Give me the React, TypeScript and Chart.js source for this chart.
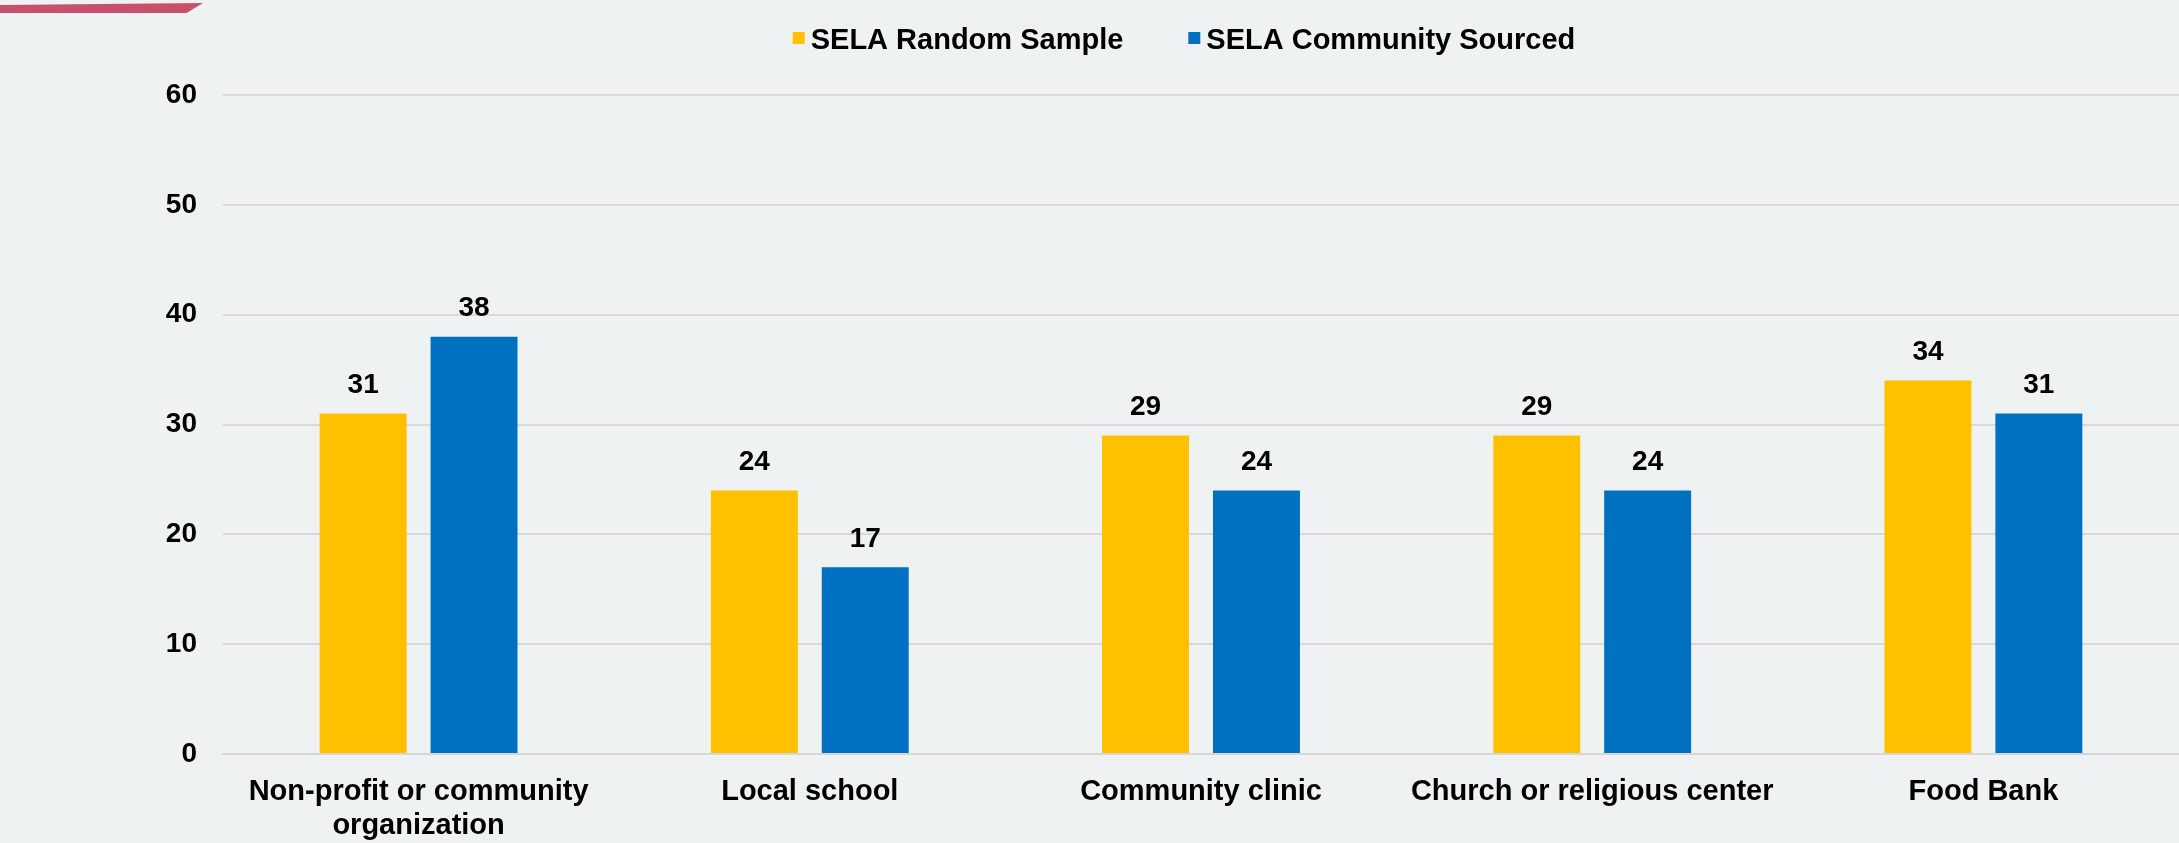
import React, { useEffect, useRef } from "react";
import { Chart, registerables } from "chart.js";

Chart.register(...registerables);

const categories: (string | string[])[] = [
  ["Non-profit or community", "organization"],
  "Local school",
  "Community clinic",
  "Church or religious center",
  "Food Bank",
];
const randomSample = [31, 24, 29, 29, 34];
const communitySourced = [38, 17, 24, 24, 31];
const seriesNames = ["SELA Random Sample", "SELA Community Sourced"];
const seriesColors = ["#FFC000", "#0070C0"];
const yMax = 60;
const yStep = 10;

const FONT = "'Liberation Sans', Arial, Helvetica, sans-serif";
const BG = "#EEF2F3";

const bgPlugin = {
  id: "bgFill",
  beforeDraw(chart: any) {
    const ctx = chart.ctx;
    ctx.save();
    ctx.fillStyle = BG;
    ctx.fillRect(0, 0, chart.width, chart.height);
    ctx.restore();
  },
};

const legendPlugin = {
  id: "topLegend",
  afterDraw(chart: any) {
    const ctx = chart.ctx;
    ctx.save();
    ctx.font = `bold 29px ${FONT}`;
    const box = 12;
    const gapBox = 6;
    const gapItem = 65;
    const widths = seriesNames.map((n) => ctx.measureText(n).width);
    const total =
      widths.reduce((a, w) => a + box + gapBox + w, 0) + gapItem * (seriesNames.length - 1);
    const cx = (chart.chartArea.left + chart.chartArea.right) / 2 - 17;
    let x = cx - total / 2;
    const y = 40;
    ctx.textBaseline = "middle";
    ctx.textAlign = "left";
    seriesNames.forEach((name, i) => {
      ctx.fillStyle = seriesColors[i];
      ctx.fillRect(x, y - box / 2 - 2, box, box);
      x += box + gapBox;
      ctx.fillStyle = "#000";
      ctx.fillText(name, x, y + 1);
      x += widths[i] + gapItem;
    });
    ctx.restore();
  },
};

const valueLabelPlugin = {
  id: "valueLabels",
  afterDatasetsDraw(chart: any) {
    const ctx = chart.ctx;
    ctx.save();
    ctx.font = `bold 28px ${FONT}`;
    ctx.fillStyle = "#000";
    ctx.textAlign = "center";
    ctx.textBaseline = "middle";
    chart.data.datasets.forEach((ds: any, di: number) => {
      const meta = chart.getDatasetMeta(di);
      meta.data.forEach((el: any, i: number) => {
        ctx.fillText(String(ds.data[i]), el.x, el.y - 28);
      });
    });
    ctx.restore();
  },
};

export default function App() {
  const ref = useRef<HTMLCanvasElement | null>(null);

  useEffect(() => {
    if (!ref.current) return;
    const chart = new Chart(ref.current, {
      type: "bar",
      data: {
        labels: categories,
        datasets: [
          {
            label: seriesNames[0],
            data: randomSample,
            backgroundColor: seriesColors[0],
            categoryPercentage: 0.567,
            barPercentage: 0.784,
          },
          {
            label: seriesNames[1],
            data: communitySourced,
            backgroundColor: seriesColors[1],
            categoryPercentage: 0.567,
            barPercentage: 0.784,
          },
        ],
      },
      options: {
        responsive: false,
        animation: false,
        layout: { padding: { top: 95, bottom: 0, left: 0, right: 0 } },
        plugins: {
          legend: { display: false },
          tooltip: { enabled: false },
          title: { display: false },
        },
        scales: {
          x: {
            afterFit: (scale: any) => {
              scale.height = 89;
            },
            grid: { display: false, drawTicks: false },
            border: { display: true, color: "#D6D6D6", width: 2 },
            ticks: {
              color: "#000",
              padding: 21,
              maxRotation: 0,
              autoSkip: false,
              font: { family: FONT, size: 29, weight: "bold", lineHeight: 1.17 },
            },
          },
          y: {
            min: 0,
            max: yMax,
            afterFit: (scale: any) => {
              scale.width = 223;
            },
            grid: { color: "#D9D9D9", lineWidth: 2, drawTicks: false },
            border: { display: false },
            ticks: {
              stepSize: yStep,
              color: "#000",
              padding: 26,
              font: { family: FONT, size: 28, weight: "bold" },
            },
          },
        },
      },
      plugins: [bgPlugin, legendPlugin, valueLabelPlugin],
    });
    return () => chart.destroy();
  }, []);

  return (
    <div
      style={{
        position: "absolute",
        left: 0,
        top: 0,
        width: 2179,
        height: 843,
        background: BG,
        overflow: "hidden",
      }}
    >
      <canvas ref={ref} width={2179} height={843} style={{ display: "block" }} />
      <div
        style={{
          position: "absolute",
          left: 0,
          top: 3,
          width: 203,
          height: 10,
          background: "#C8506A",
          clipPath: "polygon(0 20%, 100% 0, 92% 100%, 0 100%)",
        }}
      />
    </div>
  );
}
